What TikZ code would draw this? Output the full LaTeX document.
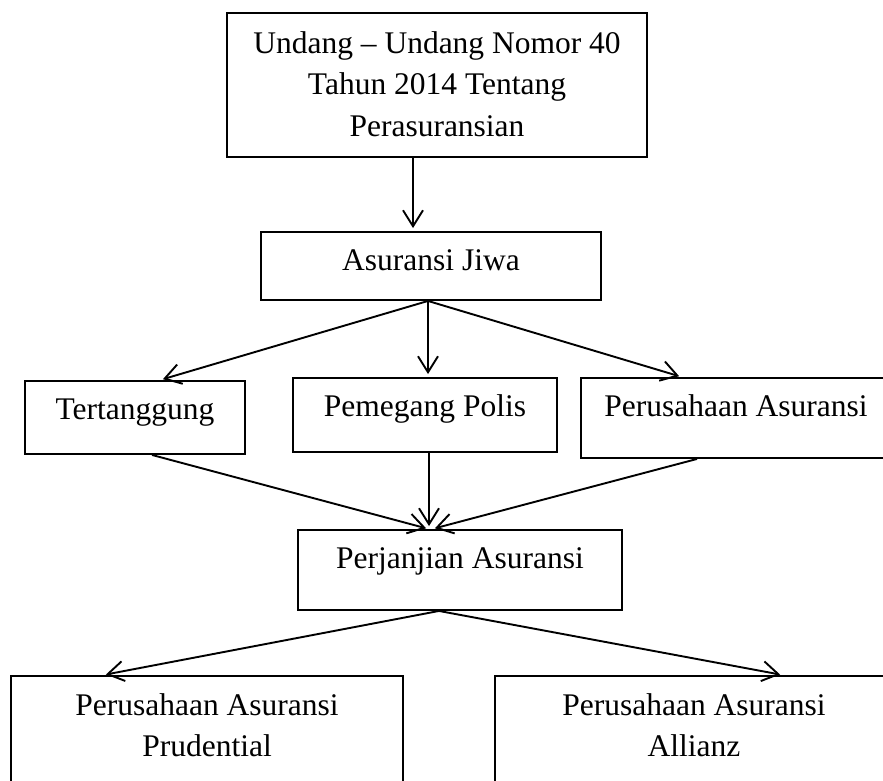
\documentclass[tikz,border=0pt]{standalone}
\usepackage{fontspec}
\setmainfont{Liberation Serif}
\usetikzlibrary{arrows.meta,calc}
\begin{document}
\begin{tikzpicture}[x=1pt,y=-1pt,
  box/.style={draw,line width=1.9pt,rectangle,inner sep=0pt},
  lbl/.style={anchor=north,inner sep=0pt,align=center,font=\fontsize{31.5}{41.5}\selectfont},
  conn/.style={line width=1.9pt,-{Straight Barb[length=16pt,width=20pt,line width=1.9pt]},shorten >=3pt}]
\useasboundingbox (0,0) rectangle (883,781);
\clip (0,0) rectangle (883,781);
% boxes
\node[box,minimum width=420pt,minimum height=144pt] (ub) at (437,85) {};
\node[box,minimum width=340pt,minimum height=68pt] (aj) at (431,266) {};
\node[box,minimum width=220pt,minimum height=73pt] (tg) at (135,417.5) {};
\node[box,minimum width=264pt,minimum height=74pt] (pg) at (425,415) {};
\node[box,minimum width=310pt,minimum height=80pt] (ps) at (736,418) {};
\node[box,minimum width=324pt,minimum height=80pt] (pj) at (460,570) {};
\node[box,minimum width=392pt,minimum height=130pt] (pr) at (207,741) {};
\node[box,minimum width=398pt,minimum height=130pt] (al) at (694,741) {};
% texts
\node[lbl] (ubt) at ($(ub.north)+(0,12)$) {\strut Undang -- Undang Nomor 40\\Tahun 2014 Tentang\\Perasuransian};
\node[lbl] (ajt) at ($(aj.north)+(0,10)$) {\strut Asuransi Jiwa};
\node[lbl] (tgt) at ($(tg.north)+(0,10)$) {\strut Tertanggung};
\node[lbl] (pgt) at ($(pg.north)+(0,10)$) {\strut Pemegang Polis};
\node[lbl] (pst) at ($(ps.north)+(0,10)$) {\strut Perusahaan Asuransi};
\node[lbl] (pjt) at ($(pj.north)+(0,10)$) {\strut Perjanjian Asuransi};
\node[lbl] (prt) at ($(pr.north)+(0,11)$) {\strut Perusahaan Asuransi\\Prudential};
\node[lbl] (alt) at ($(al.north)+(0,11)$) {\strut Perusahaan Asuransi\\Allianz};
% connectors
\draw[conn] ([xshift=-24pt]ub.south) -- ([xshift=-18pt]aj.north);
\draw[conn] ([xshift=-3pt]aj.south) -- ([xshift=25pt]tg.north);
\draw[conn] ([xshift=-3pt]aj.south) -- ([xshift=3pt]pg.north);
\draw[conn] ([xshift=-3pt]aj.south) -- ([xshift=-54pt]ps.north);
\draw[conn] ([xshift=17pt]tg.south) -- ([xshift=-31pt]pj.north);
\draw[conn] ([xshift=4pt]pg.south) -- ([xshift=-31pt]pj.north);
\draw[conn] ([xshift=-39pt]ps.south) -- ([xshift=-28pt]pj.north);
\draw[conn] ([xshift=-21pt]pj.south) -- ([xshift=-104pt]pr.north);
\draw[conn] ([xshift=-21pt]pj.south) -- ([xshift=89pt]al.north);
\end{tikzpicture}
\end{document}
